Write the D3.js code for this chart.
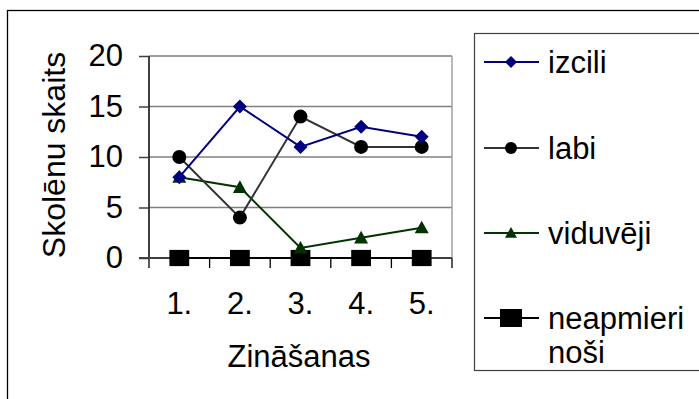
<!DOCTYPE html>
<html>
<head>
<meta charset="utf-8">
<script src="https://cdn.jsdelivr.net/npm/d3@7"></script>
<style>
  html, body { margin: 0; padding: 0; background: #fff; }
  svg { display: block; }
  text { font-family: "Liberation Sans", Arial, sans-serif; fill: #000; }
</style>
</head>
<body>
<svg id="chart" width="699" height="399"></svg>
<script>
// Data
const categories = ["1.", "2.", "3.", "4.", "5."];
const izcili = [8, 15, 11, 13, 12];
const labi = [10, 4, 14, 11, 11];
const viduveji = [8, 7, 1, 2, 3];
const neapmierinosi = [0, 0, 0, 0, 0];
const yTicks = [0, 5, 10, 15, 20];

const series = [
  { name: ["izcili"], values: izcili, color: "#000080", marker: "diamond" },
  { name: ["labi"], values: labi, color: "#333333", marker: "circle", markerColor: "#000" },
  { name: ["viduvēji"], values: viduveji, color: "#003300", marker: "triangle" },
  { name: ["neapmieri", "noši"], values: neapmierinosi, color: "#000", marker: "square" }
];

const svg = d3.select("#chart");

// Outer chart frame (runs off the right and bottom edges)
svg.append("rect")
  .attr("x", 7.5).attr("y", 10.5)
  .attr("width", 720).attr("height", 420)
  .attr("fill", "none").attr("stroke", "#000").attr("stroke-width", 1.3);

const plot = { left: 149, right: 452, top: 56, bottom: 258 };

const x = d3.scaleBand().domain(categories).range([plot.left, plot.right]);
const y = d3.scaleLinear().domain([0, 20]).range([plot.bottom, plot.top]);

// Gridlines
svg.append("g")
  .selectAll("line").data(yTicks.filter(d => d > 0)).join("line")
  .attr("x1", plot.left).attr("x2", plot.right)
  .attr("y1", d => y(d)).attr("y2", d => y(d))
  .attr("stroke", "#808080").attr("stroke-width", 1.5);

// Plot area right border
svg.append("line")
  .attr("x1", plot.right).attr("x2", plot.right)
  .attr("y1", plot.top).attr("y2", plot.bottom)
  .attr("stroke", "#a0a0a0").attr("stroke-width", 1.5);

// Y axis
const yAxis = d3.axisLeft(y).tickValues(yTicks).tickSize(10).tickPadding(16);
const gy = svg.append("g").attr("transform", `translate(${plot.left},0)`).call(yAxis);
gy.select(".domain").attr("stroke", "#000").attr("stroke-width", 1.5)
  .attr("d", `M0,${plot.top}V${plot.bottom}`);
gy.selectAll(".tick line").attr("stroke", "#404040").attr("stroke-width", 1.5);
gy.selectAll(".tick text").attr("font-size", 31).attr("font-family", "Liberation Sans, Arial, sans-serif")
  .attr("fill", "#000");

// X axis
const xAxis = d3.axisBottom(x).tickSize(0).tickPadding(34);
const gx = svg.append("g").attr("transform", `translate(0,${plot.bottom})`).call(xAxis);
gx.select(".domain").remove();
gx.selectAll(".tick text").attr("font-size", 31).attr("font-family", "Liberation Sans, Arial, sans-serif")
  .attr("fill", "#000");
// Category separator ticks
const sepX = categories.map(c => x(c)).concat([plot.right]);
svg.append("g").selectAll("line").data(sepX).join("line")
  .attr("x1", d => d).attr("x2", d => d)
  .attr("y1", plot.bottom).attr("y2", plot.bottom + 10)
  .attr("stroke", "#000").attr("stroke-width", 1.3);
svg.append("line")
  .attr("x1", plot.left - 10).attr("x2", plot.right)
  .attr("y1", plot.bottom).attr("y2", plot.bottom)
  .attr("stroke", "#404040").attr("stroke-width", 2);

// Axis titles
svg.append("text")
  .attr("x", 299).attr("y", 367)
  .attr("text-anchor", "middle").attr("font-size", 31)
  .text("Zināšanas");
svg.append("text")
  .attr("transform", `translate(65,155) rotate(-90)`)
  .attr("text-anchor", "middle").attr("font-size", 32)
  .text("Skolēnu skaits");

// Marker drawing
function drawMarker(g, type, color, size) {
  if (type === "diamond") {
    const s = size * 0.5;
    g.append("path").attr("d", `M0,${-s}L${s},0L0,${s}L${-s},0Z`).attr("fill", color);
  } else if (type === "circle") {
    g.append("circle").attr("r", size * 0.5).attr("fill", color);
  } else if (type === "triangle") {
    const s = size * 0.5;
    g.append("path").attr("d", `M0,${-s}L${s},${s * 0.8}L${-s},${s * 0.8}Z`).attr("fill", color);
  } else if (type === "square") {
    g.append("rect").attr("x", -size * 0.55).attr("y", -size * 0.45)
      .attr("width", size * 1.1).attr("height", size * 0.9).attr("fill", color);
  }
}

const cx = c => x(c) + x.bandwidth() / 2;
const line = d3.line().x((d, i) => cx(categories[i])).y(d => y(d));
const sizes = { diamond: 14, circle: 14, triangle: 14, square: 18 };

// Draw series in reverse so izcili sits on top
series.slice().reverse().forEach(s => {
  svg.append("path").datum(s.values)
    .attr("d", line).attr("fill", "none")
    .attr("stroke", s.color).attr("stroke-width", 2);
});
series.slice().reverse().forEach(s => {
  s.values.forEach((v, i) => {
    const g = svg.append("g").attr("transform", `translate(${cx(categories[i])},${y(v)})`);
    drawMarker(g, s.marker, s.markerColor || s.color, sizes[s.marker]);
  });
});

// Legend
svg.append("rect")
  .attr("x", 474.5).attr("y", 33.5).attr("width", 300).attr("height", 337)
  .attr("fill", "none").attr("stroke", "#404040").attr("stroke-width", 1.2);

const legendY = [62, 148, 233, 318];
const legendSizes = { diamond: 12, circle: 12, triangle: 12, square: 20 };
series.forEach((s, i) => {
  const g = svg.append("g").attr("transform", `translate(0,${legendY[i]})`);
  g.append("line").attr("x1", 484).attr("x2", 539).attr("y1", 0).attr("y2", 0)
    .attr("stroke", s.color).attr("stroke-width", 2);
  const m = g.append("g").attr("transform", `translate(511,0)`);
  drawMarker(m, s.marker, s.markerColor || s.color, legendSizes[s.marker]);
  s.name.forEach((t, j) => {
    g.append("text").attr("x", 548).attr("y", 11 + j * 34)
      .attr("font-size", 31).text(t);
  });
});
</script>
</body>
</html>
